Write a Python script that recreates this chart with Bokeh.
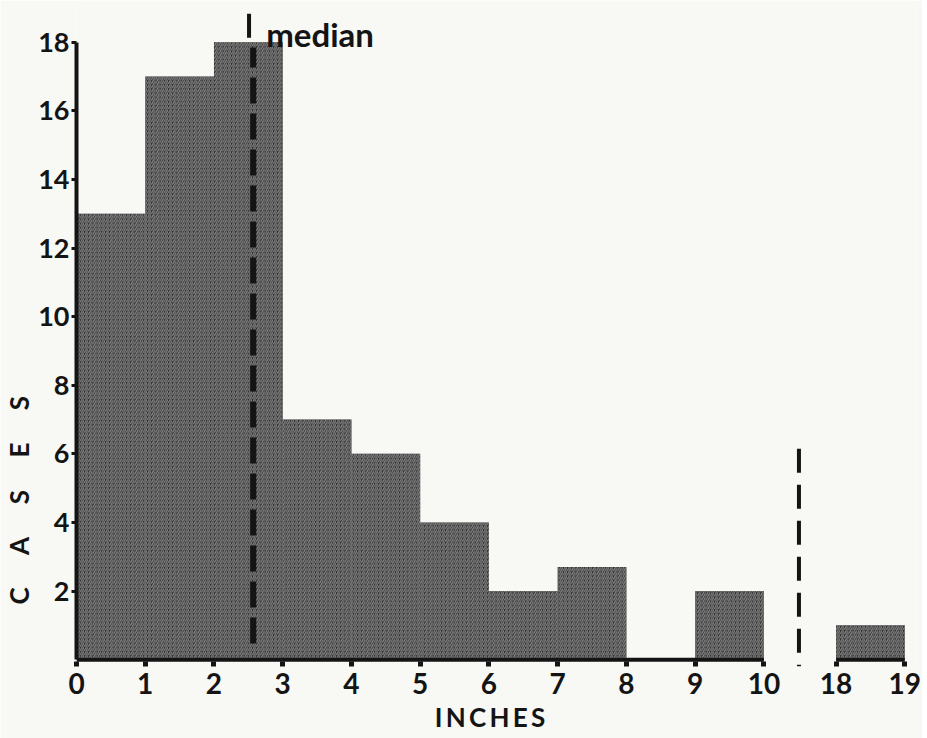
from bokeh.plotting import figure
from bokeh.models import FixedTicker, Range1d
from bokeh.core.properties import value
from bokeh.embed import file_html
from bokeh.resources import INLINE

# ---- data ----
bin_left = [0, 1, 2, 3, 4, 5, 6, 7, 8, 9, 18]
bin_width = [1, 1, 1, 1, 1, 1, 1, 1, 1, 1, 1]
cases = [13, 17, 18, 7, 6, 4, 2, 2.7, 0, 2, 1]
median_value = 2.57
x_tick_values = [0, 1, 2, 3, 4, 5, 6, 7, 8, 9, 10, 18, 19]
y_tick_values = [2, 4, 6, 8, 10, 12, 14, 16, 18]
axis_segments = [(0, 10), (18, 19)]

# broken x axis: values >= 18 are drawn right after the break
BREAK_START = 18
BREAK_POS = 11.05
BREAK_MARK = 10.51


def disp(x):
    return x if x <= 10 else x - BREAK_START + BREAK_POS


BG = "#f8f8f4"
INK = "#141414"
FONT = "Lato"
Y0 = -0.2

p = figure(width=922, height=738, output_backend="svg", toolbar_location=None,
           x_range=Range1d(0, 12.22), y_range=Range1d(Y0, 19.16),
           min_border_left=75, min_border_right=6, min_border_top=2,
           min_border_bottom=72)
p.background_fill_color = BG
p.border_fill_color = BG
p.outline_line_color = None
p.grid.visible = False

lefts = [disp(v) for v in bin_left]
rights = [disp(v) + w for v, w in zip(bin_left, bin_width)]
p.quad(left=lefts, right=rights, bottom=[0] * len(cases), top=cases,
       fill_color="#242424", line_color=None,
       hatch_pattern="/", hatch_color="#9a9a9a", hatch_weight=1.3,
       hatch_scale=4.2, hatch_alpha=0.8)

# baseline (broken x axis line)
p.segment(x0=[disp(a) for a, b in axis_segments], y0=[0, 0],
          x1=[disp(b) for a, b in axis_segments], y1=[0, 0],
          line_color=INK, line_width=4)

# median line
p.line(x=[median_value, median_value], y=[0.47, 17.85], line_color=INK,
       line_width=6, line_dash="26 10")

# legend marker + text
p.segment(x0=[2.51], y0=[18.13], x1=[2.51], y1=[18.83], line_color=INK, line_width=4)
p.text(x=[2.76], y=[18.24], text=["median"], text_font=value(FONT),
       text_font_style="bold", text_font_size="33px", text_color=INK,
       text_baseline="alphabetic")

# axis break mark
p.line(x=[BREAK_MARK, BREAK_MARK], y=[6.15, Y0], line_color=INK, line_width=4,
       line_dash="24 12")

# x axis
xa = p.xaxis[0]
xa.ticker = FixedTicker(ticks=[disp(v) for v in x_tick_values])
xa.major_label_overrides = {disp(v): str(v) for v in x_tick_values if v > 10}
xa.axis_line_color = None
xa.major_tick_line_width = 5
xa.major_tick_line_color = INK
xa.major_tick_out = 0
xa.major_tick_in = 5
xa.minor_tick_line_color = None
xa.major_label_standoff = 6
xa.major_label_text_font = FONT
xa.major_label_text_font_style = "bold"
xa.major_label_text_font_size = "28px"
xa.major_label_text_color = INK
xa.axis_label = "I\u2009N\u2009C\u2009H\u2009E\u2009S\u2002"
xa.axis_label_standoff = 4
xa.axis_label_text_font = FONT
xa.axis_label_text_font_style = "bold"
xa.axis_label_text_font_size = "26px"
xa.axis_label_text_color = INK

# y axis
ya = p.yaxis[0]
ya.ticker = FixedTicker(ticks=y_tick_values)
ya.bounds = (0, 18)
ya.axis_line_width = 4
ya.axis_line_color = INK
ya.major_tick_line_width = 3
ya.major_tick_line_color = INK
ya.major_tick_out = 5
ya.major_tick_in = 0
ya.minor_tick_line_color = None
ya.major_label_standoff = 2
ya.major_label_text_font = FONT
ya.major_label_text_font_style = "bold"
ya.major_label_text_font_size = "27px"
ya.major_label_text_color = INK
GAP = "\u2003\u2002"
ya.axis_label = GAP.join("CASES") + "\u2003" * 17
ya.axis_label_standoff = 0
ya.axis_label_text_font = FONT
ya.axis_label_text_font_style = "bold"
ya.axis_label_text_font_size = "26px"
ya.axis_label_text_color = INK

open("out.html", "w").write(file_html(p, INLINE))
